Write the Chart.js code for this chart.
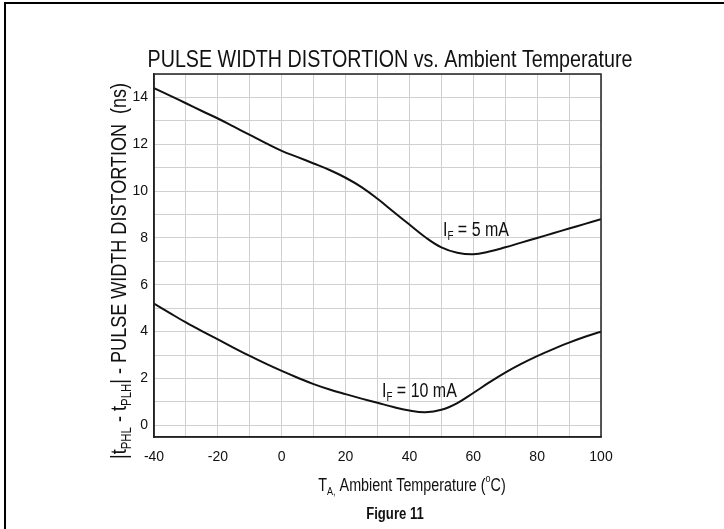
<!DOCTYPE html>
<html>
<head>
<meta charset="utf-8">
<script src="https://cdn.jsdelivr.net/npm/chart.js@4"></script>
<style>
  html, body { margin: 0; padding: 0; background: #fff; }
  #wrap { position: relative; width: 724px; height: 529px; overflow: hidden; }
  #frame { position: absolute; left: 4px; top: 2px; width: 740px; height: 560px;
           border-top: 2px solid #000; border-left: 2px solid #000; pointer-events: none; }
  canvas { position: absolute; left: 0; top: 0; }
</style>
</head>
<body>
<div id="wrap">
  <canvas id="grafico" width="724" height="529"></canvas>
  <div id="frame"></div>
</div>
<script>
// temperatures (°C), every 5 degrees
const temps = [-40, -35, -30, -25, -20, -15, -10, -5, 0, 5, 10, 15, 20, 25, 30, 35, 40,
               45, 50, 55, 60, 65, 70, 75, 80, 85, 90, 95, 100];
// pulse width distortion (ns), IF = 5 mA
const pwd5mA = [14.4, 14.08, 13.75, 13.42, 13.1, 12.75, 12.4, 12.05, 11.72, 11.45, 11.18, 10.9, 10.57,
                10.17, 9.67, 9.12, 8.57, 8.03, 7.6, 7.37, 7.3, 7.42, 7.6, 7.8, 8.0, 8.2, 8.4, 8.6, 8.8];
// pulse width distortion (ns), IF = 10 mA
const pwd10mA = [5.2, 4.79, 4.39, 4.02, 3.67, 3.31, 2.96, 2.63, 2.32, 2.03, 1.76, 1.53, 1.33,
                 1.14, 0.96, 0.78, 0.63, 0.56, 0.66, 0.95, 1.38, 1.83, 2.25, 2.62, 2.95, 3.25, 3.53, 3.78, 4.0];

const xLabeled = [-40, -20, 0, 20, 40, 60, 80, 100];
const yLabeled = [0, 2, 4, 6, 8, 10, 12, 14];

const FONT = "'Liberation Sans', Arial, sans-serif";
const ANGOSTO = 0.82; // the original uses a condensed face

// draw a string made of pieces, some of them sub/superscript, squeezed horizontally
function dibujarPartes(ctx, partes, x, y, size, align, peso) {
  const pre = peso ? peso + " " : "";
  const small = Math.round(size * 0.62);
  let total = 0;
  partes.forEach(p => {
    ctx.font = pre + (p.sub || p.sup ? small : size) + "px " + FONT;
    p.w = ctx.measureText(p.t).width;
    total += p.w;
  });
  ctx.save();
  ctx.translate(align === "center" ? x - total * ANGOSTO / 2 : x, y);
  ctx.scale(ANGOSTO, 1);
  let cx = 0;
  partes.forEach(p => {
    ctx.font = pre + (p.sub || p.sup ? small : size) + "px " + FONT;
    let dy = 0;
    if (p.sub) dy = size * 0.32;
    if (p.sup) dy = -size * 0.38;
    ctx.fillText(p.t, cx, dy);
    cx += p.w;
  });
  ctx.restore();
}

const textos = {
  id: "textos",
  afterDraw(chart) {
    const { ctx, chartArea: a, scales } = chart;
    ctx.save();
    // plot frame
    ctx.strokeStyle = "#222";
    ctx.lineWidth = 1.5;
    ctx.strokeRect(a.left, a.top, a.right - a.left, a.bottom - a.top);

    ctx.fillStyle = "#111";
    ctx.textBaseline = "middle";
    ctx.textAlign = "left";

    // title
    dibujarPartes(ctx, [{ t: "PULSE WIDTH DISTORTION vs. Ambient Temperature" }], 390, 60, 24, "center");

    // x axis title
    dibujarPartes(ctx, [
      { t: "T" }, { t: "A,", sub: true }, { t: " Ambient Temperature (" },
      { t: "o", sup: true }, { t: "C)" }
    ], 412, 486, 17.5, "center");

    // figure caption
    dibujarPartes(ctx, [{ t: "Figure 11" }], 395, 515, 16, "center", "bold");

    // y axis title (rotated)
    ctx.save();
    ctx.translate(120, 271);
    ctx.rotate(-Math.PI / 2);
    dibujarPartes(ctx, [
      { t: "|t" }, { t: "PHL", sub: true }, { t: " - t" }, { t: "PLH", sub: true },
      { t: "| - PULSE WIDTH DISTORTION  (ns)" }
    ], 0, 0, 22, "center");
    ctx.restore();

    // curve labels
    const x = scales.x, y = scales.y;
    dibujarPartes(ctx, [{ t: "I" }, { t: "F", sub: true }, { t: " = 5 mA" }],
      x.getPixelForValue(50.5), y.getPixelForValue(8.3), 19.5, "left");
    dibujarPartes(ctx, [{ t: "I" }, { t: "F", sub: true }, { t: " = 10 mA" }],
      x.getPixelForValue(31.4), y.getPixelForValue(1.45), 19.5, "left");
    ctx.restore();
  }
};

const ctx = document.getElementById("grafico").getContext("2d");
new Chart(ctx, {
  type: "line",
  data: {
    datasets: [
      { label: "IF = 5 mA", data: temps.map((t, i) => ({ x: t, y: pwd5mA[i] })) },
      { label: "IF = 10 mA", data: temps.map((t, i) => ({ x: t, y: pwd10mA[i] })) }
    ]
  },
  options: {
    responsive: false,
    animation: false,
    layout: { padding: { top: 74, right: 123, left: 0, bottom: 0 } },
    elements: {
      point: { radius: 0 },
      line: { borderColor: "#111", borderWidth: 2, tension: 0.4, fill: false }
    },
    plugins: { legend: { display: false }, tooltip: { enabled: false } },
    scales: {
      x: {
        type: "linear",
        min: -40, max: 100,
        afterFit: s => { s.height = 92; },
        grid: { color: "#d0d0d0", lineWidth: 1, drawTicks: false },
        border: { color: "#222", width: 1.5 },
        ticks: {
          stepSize: 10, autoSkip: false, maxRotation: 0, padding: 12,
          color: "#111", font: { family: FONT, size: 14 },
          callback: v => xLabeled.includes(v) ? String(v) : ""
        }
      },
      y: {
        type: "linear",
        min: -0.5, max: 15,
        afterFit: s => { s.width = 154; },
        grid: { color: "#d0d0d0", lineWidth: 1, drawTicks: false },
        border: { color: "#222", width: 1.5 },
        ticks: {
          stepSize: 1, includeBounds: false, autoSkip: false, padding: 6,
          color: "#111", font: { family: FONT, size: 14 },
          callback: v => yLabeled.includes(v) ? String(v) : ""
        }
      }
    }
  },
  plugins: [textos]
});
</script>
</body>
</html>
